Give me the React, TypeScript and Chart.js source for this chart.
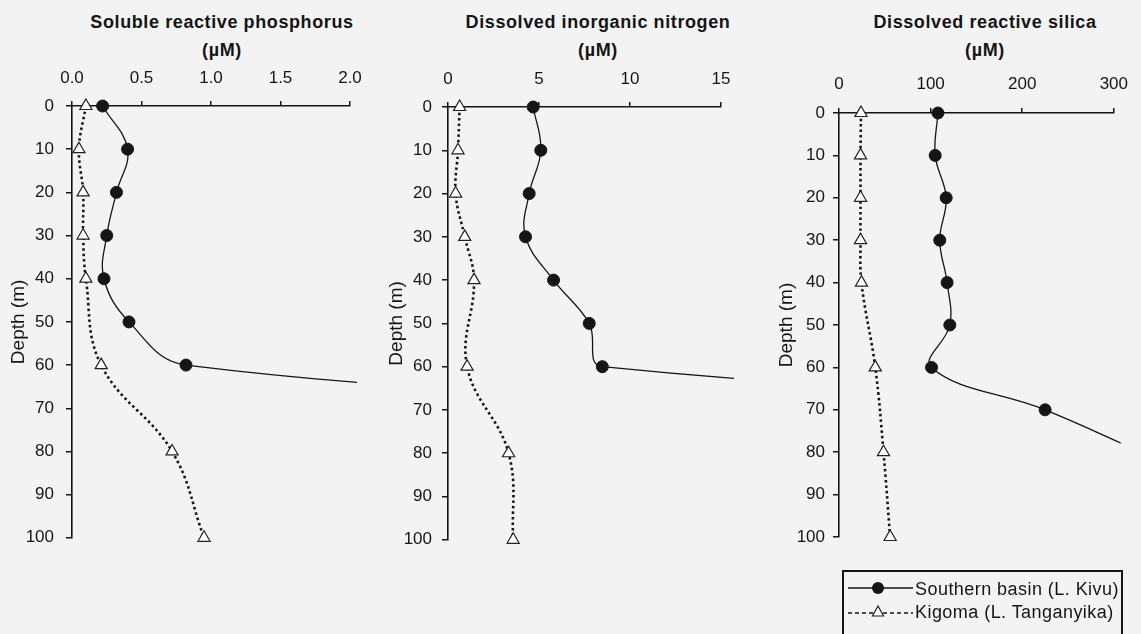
import React, { useEffect, useRef } from "react";
import { Chart, registerables } from "chart.js";
Chart.register(...registerables);

// ---------- data ----------
const kivuDepth = [0, 10, 20, 30, 40, 50, 60, 70];
const kivuDepthSi = [0, 10, 20, 30, 40, 50, 60, 70, 80];
const kigomaDepth = [0, 10, 20, 30, 40, 60, 80, 100];

const kivuSRP = [0.22, 0.4, 0.32, 0.25, 0.23, 0.41, 0.82, 5.5];
const kigomaSRP = [0.1, 0.05, 0.08, 0.08, 0.1, 0.21, 0.72, 0.95];

const kivuDIN = [4.68, 5.1, 4.46, 4.26, 5.8, 7.76, 8.48, 55];
const kigomaDIN = [0.64, 0.55, 0.42, 0.92, 1.43, 1.05, 3.33, 3.58];

const kivuDRSi = [108, 105, 117, 110, 118, 121, 101, 225, 330];
const kigomaDRSi = [24, 23.5, 23.5, 23.5, 24.5, 39.6, 48.6, 55.8];

const panelTitles = [
  "Soluble reactive phosphorus",
  "Dissolved inorganic nitrogen",
  "Dissolved reactive silica",
];
const unitLabel = "(µM)";
const depthLabel = "Depth (m)";
const seriesNames = ["Southern basin (L. Kivu)", "Kigoma (L. Tanganyika)"];

const FONT = "'Liberation Sans', Arial, Helvetica, sans-serif";
const INK = "#151515";

type PanelCfg = {
  left: number;
  width: number;
  height: number;
  yAxisW: number;
  xAxisH: number;
  padR: number;
  padB: number;
  xMax: number;
  xStep: number;
  decimals: number;
  kivuD: number[];
  kivu: number[];
  kigoma: number[];
  clipRight: number;
  yTickPad: number;
  xTickPad: number;
  yTitlePad: number;
};

const panels: PanelCfg[] = [
  {
    left: 0, width: 380, height: 560, yAxisW: 72, xAxisH: 106, padR: 30, padB: 20,
    xMax: 2, xStep: 0.5, decimals: 1, kivuD: kivuDepth, kivu: kivuSRP, kigoma: kigomaSRP,
    clipRight: 7, yTickPad: 12, xTickPad: 12, yTitlePad: 7,
  },
  {
    left: 380, width: 380, height: 560, yAxisW: 68, xAxisH: 107, padR: 39, padB: 20,
    xMax: 15, xStep: 5, decimals: 0, kivuD: kivuDepth, kivu: kivuDIN, kigoma: kigomaDIN,
    clipRight: 13, yTickPad: 10, xTickPad: 12, yTitlePad: 5,
  },
  {
    left: 760, width: 381, height: 560, yAxisW: 79, xAxisH: 113, padR: 25, padB: 23,
    xMax: 300, xStep: 100, decimals: 0, kivuD: kivuDepthSi, kivu: kivuDRSi, kigoma: kigomaDRSi,
    clipRight: 7, yTickPad: 8, xTickPad: 13, yTitlePad: 15,
  },
];

const titleCenters = [
  { x: 222, y1: 22, y2: 50 },
  { x: 598, y1: 22, y2: 50 },
  { x: 985, y1: 22, y2: 50 },
];

function Panel({ cfg }: { cfg: PanelCfg }) {
  const ref = useRef<HTMLCanvasElement | null>(null);
  useEffect(() => {
    if (!ref.current) return;
    const tickFont = { family: FONT, size: 17 };
    const chart = new Chart(ref.current, {
      type: "line",
      data: {
        datasets: [
          {
            label: seriesNames[0],
            data: cfg.kivu.map((v, i) => ({ x: v, y: cfg.kivuD[i] })),
            borderColor: INK,
            borderWidth: 1.3,
            pointStyle: "circle",
            pointRadius: 6,
            pointBackgroundColor: INK,
            pointBorderColor: INK,
            pointBorderWidth: 1,
            tension: 0.4,
            fill: false,
            clip: { left: 10, top: 10, right: cfg.clipRight, bottom: 10 },
          },
          {
            label: seriesNames[1],
            data: cfg.kigoma.map((v, i) => ({ x: v, y: kigomaDepth[i] })),
            borderColor: INK,
            borderWidth: 2.6,
            borderDash: [2.5, 3],
            pointStyle: "triangle",
            pointRadius: 7,
            pointBackgroundColor: "#ffffff",
            pointBorderColor: "#222",
            pointBorderWidth: 1.2,
            tension: 0.4,
            fill: false,
            clip: { left: 10, top: 10, right: 10, bottom: 10 },
          },
        ],
      },
      options: {
        animation: false,
        responsive: false,
        indexAxis: "y",
        layout: { padding: { left: 0, top: 0, right: cfg.padR, bottom: cfg.padB } },
        plugins: { legend: { display: false }, tooltip: { enabled: false }, title: { display: false } },
        scales: {
          x: {
            type: "linear",
            position: "top",
            min: 0,
            max: cfg.xMax,
            ticks: {
              stepSize: cfg.xStep,
              color: INK,
              font: tickFont,
              padding: cfg.xTickPad,
              maxRotation: 0,
              autoSkip: false,
              callback: (v: any) => Number(v).toFixed(cfg.decimals),
            },
            grid: { display: true, drawOnChartArea: false, drawTicks: true, tickLength: 5, color: INK, lineWidth: 1.5 },
            border: { display: true, color: INK, width: 1.6 },
            afterFit: (s: any) => { s.height = cfg.xAxisH; },
          },
          y: {
            type: "linear",
            position: "left",
            reverse: true,
            min: 0,
            max: 100,
            ticks: { stepSize: 10, color: INK, font: tickFont, padding: cfg.yTickPad, autoSkip: false },
            grid: { display: true, drawOnChartArea: false, drawTicks: true, tickLength: 6, color: INK, lineWidth: 1.5 },
            border: { display: true, color: INK, width: 1.6 },
            title: {
              display: true,
              text: depthLabel,
              color: INK,
              font: { family: FONT, size: 19 },
              padding: { top: cfg.yTitlePad, bottom: 0 },
            },
            afterFit: (s: any) => { s.width = cfg.yAxisW; },
          },
        },
      },
    } as any);
    return () => chart.destroy();
  }, [cfg]);
  return (
    <canvas
      ref={ref}
      width={cfg.width}
      height={cfg.height}
      style={{ position: "absolute", left: cfg.left, top: 0, width: cfg.width, height: cfg.height }}
    />
  );
}

export default function App() {
  const titleStyle = (cx: number, cy: number): React.CSSProperties => ({
    position: "absolute",
    left: cx - 200,
    width: 400,
    top: cy - 11,
    height: 22,
    lineHeight: "22px",
    textAlign: "center",
    fontFamily: FONT,
    fontWeight: "bold",
    fontSize: 18,
    letterSpacing: 0.6,
    color: INK,
    whiteSpace: "nowrap",
  });
  const legendText = (top: number): React.CSSProperties => ({
    position: "absolute",
    left: 915,
    top: top - 11,
    height: 22,
    lineHeight: "22px",
    fontFamily: FONT,
    fontSize: 18,
    letterSpacing: 0.45,
    color: INK,
    whiteSpace: "nowrap",
  });
  return (
    <div
      style={{
        position: "fixed",
        left: 0,
        top: 0,
        width: 1141,
        height: 634,
        overflow: "hidden",
        background: "#f3f3f3",
      }}
    >
      {panelTitles.map((t, i) => (
        <React.Fragment key={t}>
          <div style={titleStyle(titleCenters[i].x, titleCenters[i].y1)}>{t}</div>
          <div style={titleStyle(titleCenters[i].x, titleCenters[i].y2)}>{unitLabel}</div>
        </React.Fragment>
      ))}
      {panels.map((p, i) => (
        <Panel key={i} cfg={p} />
      ))}
      <div
        style={{
          position: "absolute",
          left: 842,
          top: 570,
          width: 281,
          height: 90,
          border: `2px solid ${INK}`,
          boxSizing: "border-box",
        }}
      />
      <svg
        width={1141}
        height={634}
        style={{ position: "absolute", left: 0, top: 0, pointerEvents: "none" }}
      >
        <line x1={848} y1={588} x2={913} y2={588} stroke={INK} strokeWidth={1.3} />
        <circle cx={878} cy={588} r={6} fill={INK} />
        <line x1={848} y1={613} x2={913} y2={613} stroke={INK} strokeWidth={1.3} strokeDasharray="4 3" />
        <polygon points="878,606 883.5,616 872.5,616" fill="#ffffff" stroke="#222" strokeWidth={1.2} />
      </svg>
      <div style={legendText(589)}>{seriesNames[0]}</div>
      <div style={legendText(612)}>{seriesNames[1]}</div>
    </div>
  );
}
